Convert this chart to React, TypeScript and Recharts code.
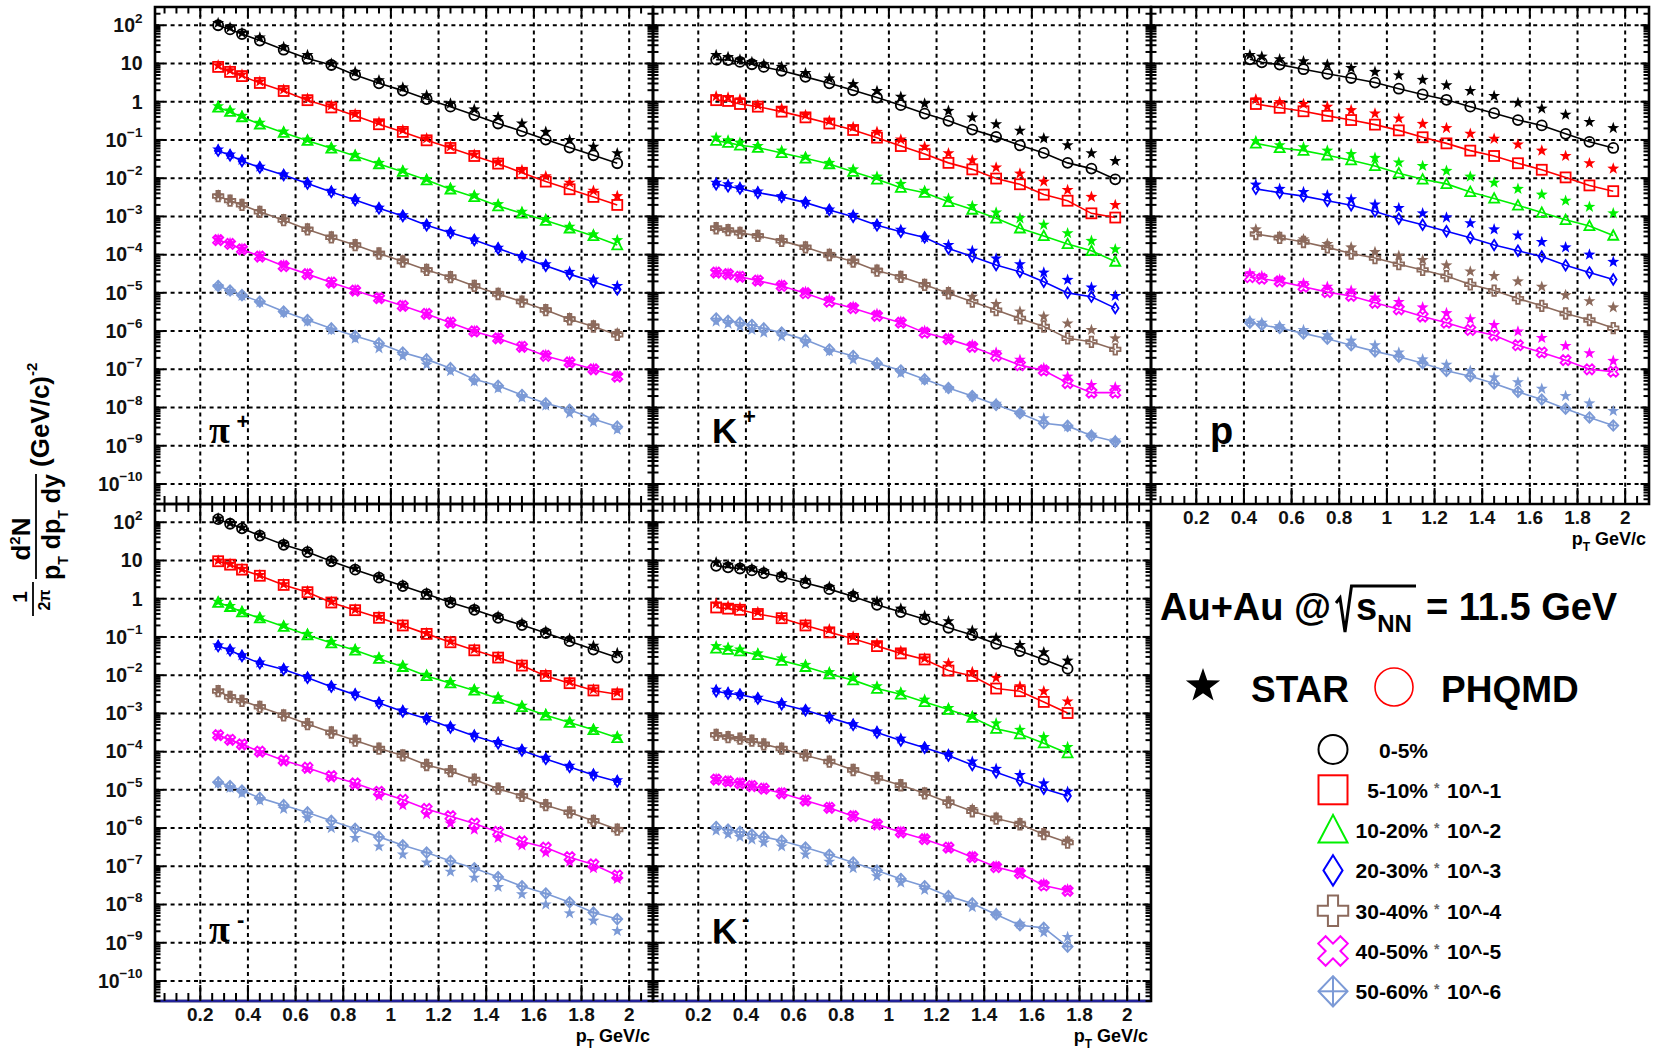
import React from 'react';
import {
  ComposedChart,
  XAxis,
  YAxis,
  Scatter,
  CartesianGrid,
  ReferenceArea,
  ReferenceLine,
} from 'recharts';

const FONT = '"Liberation Sans", Arial, Helvetica, sans-serif';

// pT bin centres (GeV/c)
const ptPion = [0.275, 0.325, 0.375, 0.45, 0.55, 0.65, 0.75, 0.85, 0.95, 1.05, 1.15, 1.25, 1.35, 1.45, 1.55, 1.65, 1.75, 1.85, 1.95];
const ptKaon = [0.275, 0.325, 0.375, 0.425, 0.475, 0.55, 0.65, 0.75, 0.85, 0.95, 1.05, 1.15, 1.25, 1.35, 1.45, 1.55, 1.65, 1.75, 1.85, 1.95];
const ptProtonA = [0.425, 0.475, 0.55, 0.65, 0.75, 0.85, 0.95, 1.05, 1.15, 1.25, 1.35, 1.45, 1.55, 1.65, 1.75, 1.85, 1.95];
const ptProtonB = [0.45, 0.55, 0.65, 0.75, 0.85, 0.95, 1.05, 1.15, 1.25, 1.35, 1.45, 1.55, 1.65, 1.75, 1.85, 1.95];

// log10 of the (scaled) yields; one row per centrality class
const piPlusPhqmd = [
  [2.0, 1.89, 1.77, 1.6, 1.36, 1.13, 0.96, 0.7, 0.48, 0.29, 0.07, -0.13, -0.35, -0.57, -0.77, -0.99, -1.2, -1.4, -1.61],
  [0.91, 0.78, 0.67, 0.49, 0.28, 0.04, -0.15, -0.37, -0.59, -0.79, -1.01, -1.21, -1.42, -1.62, -1.86, -2.09, -2.29, -2.49, -2.7],
  [-0.15, -0.26, -0.4, -0.59, -0.81, -1.02, -1.22, -1.42, -1.63, -1.83, -2.05, -2.29, -2.49, -2.73, -2.92, -3.11, -3.31, -3.51, -3.75],
  [-1.28, -1.4, -1.55, -1.72, -1.92, -2.14, -2.36, -2.57, -2.79, -2.99, -3.23, -3.43, -3.62, -3.84, -4.06, -4.29, -4.51, -4.71, -4.91],
  [-2.47, -2.59, -2.7, -2.88, -3.1, -3.34, -3.55, -3.75, -3.97, -4.18, -4.4, -4.59, -4.82, -5.03, -5.23, -5.45, -5.69, -5.88, -6.1],
  [-3.62, -3.72, -3.86, -4.05, -4.3, -4.51, -4.73, -4.94, -5.14, -5.34, -5.55, -5.78, -6.01, -6.19, -6.41, -6.65, -6.82, -7.0, -7.19],
  [-4.82, -4.94, -5.06, -5.23, -5.49, -5.71, -5.93, -6.13, -6.32, -6.56, -6.74, -6.97, -7.26, -7.43, -7.67, -7.89, -8.06, -8.3, -8.5],
];
const piPlusStar = [
  [2.06, 1.94, 1.8, 1.68, 1.43, 1.22, 1.0, 0.78, 0.56, 0.37, 0.17, -0.05, -0.2, -0.4, -0.57, -0.79, -1.0, -1.18, -1.35],
  [0.95, 0.82, 0.71, 0.53, 0.32, 0.08, -0.1, -0.32, -0.53, -0.74, -0.96, -1.17, -1.38, -1.58, -1.79, -1.95, -2.12, -2.33, -2.47],
  [-0.12, -0.23, -0.37, -0.55, -0.78, -0.99, -1.19, -1.39, -1.6, -1.8, -2.02, -2.25, -2.45, -2.68, -2.88, -3.07, -3.27, -3.47, -3.62],
  [-1.25, -1.38, -1.52, -1.7, -1.9, -2.12, -2.33, -2.55, -2.77, -2.97, -3.2, -3.4, -3.6, -3.82, -4.04, -4.25, -4.45, -4.65, -4.82],
  [-2.45, -2.57, -2.68, -2.86, -3.08, -3.32, -3.53, -3.73, -3.95, -4.15, -4.38, -4.57, -4.8, -5.0, -5.2, -5.43, -5.66, -5.85, -6.05],
  [-3.6, -3.7, -3.84, -4.03, -4.27, -4.5, -4.72, -4.92, -5.13, -5.33, -5.54, -5.77, -5.99, -6.17, -6.4, -6.62, -6.8, -6.98, -7.15],
  [-4.82, -4.95, -5.08, -5.25, -5.52, -5.75, -5.97, -6.2, -6.45, -6.65, -6.88, -7.05, -7.32, -7.5, -7.74, -7.95, -8.15, -8.38, -8.58],
];

const piMinusPhqmd = [
  [2.08, 1.96, 1.84, 1.65, 1.41, 1.22, 0.98, 0.76, 0.55, 0.33, 0.12, -0.1, -0.29, -0.5, -0.69, -0.9, -1.11, -1.33, -1.54],
  [0.98, 0.89, 0.76, 0.6, 0.36, 0.17, -0.1, -0.3, -0.5, -0.7, -0.92, -1.14, -1.35, -1.54, -1.75, -2.02, -2.21, -2.4, -2.5],
  [-0.1, -0.21, -0.35, -0.51, -0.73, -0.95, -1.16, -1.35, -1.57, -1.78, -2.02, -2.21, -2.4, -2.61, -2.83, -3.05, -3.24, -3.43, -3.64],
  [-1.24, -1.35, -1.5, -1.69, -1.85, -2.07, -2.3, -2.51, -2.73, -2.95, -3.14, -3.37, -3.59, -3.78, -3.97, -4.19, -4.4, -4.61, -4.78],
  [-2.42, -2.57, -2.67, -2.83, -3.05, -3.28, -3.5, -3.71, -3.92, -4.1, -4.35, -4.51, -4.73, -4.97, -5.16, -5.4, -5.59, -5.81, -6.04],
  [-3.57, -3.69, -3.81, -4.0, -4.23, -4.42, -4.64, -4.83, -5.05, -5.26, -5.5, -5.69, -5.88, -6.1, -6.35, -6.51, -6.76, -6.95, -7.24],
  [-4.8, -4.9, -5.02, -5.21, -5.4, -5.59, -5.81, -6.02, -6.23, -6.45, -6.64, -6.86, -7.05, -7.28, -7.52, -7.71, -7.94, -8.21, -8.38],
];
const piMinusStar = [
  [2.1, 1.98, 1.86, 1.68, 1.44, 1.25, 1.0, 0.79, 0.58, 0.36, 0.15, -0.07, -0.26, -0.46, -0.64, -0.85, -1.05, -1.23, -1.42],
  [1.0, 0.91, 0.78, 0.62, 0.38, 0.2, -0.08, -0.28, -0.47, -0.68, -0.9, -1.12, -1.32, -1.52, -1.72, -1.98, -2.17, -2.37, -2.45],
  [-0.08, -0.19, -0.33, -0.49, -0.7, -0.92, -1.13, -1.32, -1.53, -1.75, -1.99, -2.18, -2.37, -2.58, -2.8, -3.02, -3.21, -3.41, -3.6],
  [-1.22, -1.33, -1.48, -1.67, -1.82, -2.04, -2.28, -2.48, -2.7, -2.92, -3.12, -3.34, -3.56, -3.75, -3.94, -4.16, -4.37, -4.58, -4.75],
  [-2.4, -2.55, -2.65, -2.81, -3.03, -3.26, -3.48, -3.69, -3.9, -4.08, -4.33, -4.49, -4.71, -4.95, -5.14, -5.38, -5.57, -5.79, -6.02],
  [-3.58, -3.7, -3.83, -4.02, -4.26, -4.46, -4.68, -4.88, -5.16, -5.4, -5.64, -5.88, -6.04, -6.26, -6.45, -6.64, -6.88, -7.05, -7.33],
  [-4.83, -4.95, -5.09, -5.28, -5.5, -5.74, -6.0, -6.26, -6.48, -6.69, -6.9, -7.14, -7.3, -7.54, -7.73, -8.0, -8.23, -8.42, -8.69],
];

const kPlusPhqmd = [
  [1.1, 1.09, 1.04, 0.98, 0.91, 0.81, 0.65, 0.48, 0.3, 0.11, -0.09, -0.31, -0.5, -0.73, -0.92, -1.14, -1.34, -1.6, -1.75, -2.03],
  [0.04, 0.02, -0.06, -0.13, -0.26, -0.41, -0.57, -0.74, -0.94, -1.16, -1.37, -1.6, -1.77, -2.01, -2.16, -2.43, -2.59, -2.92, -3.03],
  [-1.02, -1.07, -1.14, -1.2, -1.34, -1.48, -1.63, -1.83, -2.03, -2.25, -2.38, -2.62, -2.82, -3.05, -3.31, -3.51, -3.72, -3.9, -4.18],
  [-2.16, -2.21, -2.27, -2.38, -2.49, -2.64, -2.83, -3.01, -3.23, -3.4, -3.55, -3.84, -4.05, -4.27, -4.45, -4.71, -5.0, -5.1, -5.4],
  [-3.31, -3.36, -3.43, -3.51, -3.64, -3.81, -4.01, -4.18, -4.42, -4.58, -4.79, -5.01, -5.23, -5.45, -5.67, -5.88, -6.19, -6.28, -6.48],
  [-4.47, -4.51, -4.58, -4.68, -4.82, -5.01, -5.23, -5.4, -5.6, -5.78, -6.04, -6.21, -6.41, -6.65, -6.89, -7.03, -7.36, -7.61, -7.61],
  [-5.67, -5.73, -5.78, -5.84, -5.93, -6.04, -6.23, -6.48, -6.65, -6.84, -7.03, -7.26, -7.49, -7.7, -7.93, -8.15, -8.41, -8.48, -8.74, -8.89],
];
const kPlusStar = [
  [1.22, 1.17, 1.1, 1.04, 0.98, 0.91, 0.75, 0.61, 0.46, 0.28, 0.13, -0.05, -0.24, -0.41, -0.59, -0.76, -0.96, -1.14, -1.35, -1.55],
  [0.14, 0.11, 0.06, -0.09, -0.18, -0.35, -0.5, -0.66, -0.79, -0.99, -1.18, -1.35, -1.53, -1.72, -1.88, -2.09, -2.31, -2.49, -2.7],
  [-0.94, -1.01, -1.07, -1.16, -1.28, -1.44, -1.6, -1.77, -1.96, -2.15, -2.33, -2.53, -2.73, -2.9, -3.05, -3.22, -3.44, -3.64, -3.86],
  [-2.12, -2.16, -2.24, -2.35, -2.47, -2.62, -2.82, -2.96, -3.2, -3.35, -3.55, -3.75, -3.9, -4.1, -4.25, -4.47, -4.66, -4.86, -5.08],
  [-3.29, -3.34, -3.4, -3.49, -3.62, -3.79, -3.98, -4.16, -4.39, -4.56, -4.77, -4.97, -5.1, -5.29, -5.49, -5.62, -5.8, -5.97, -6.19],
  [-4.45, -4.49, -4.56, -4.66, -4.79, -4.97, -5.17, -5.36, -5.55, -5.75, -5.99, -6.19, -6.36, -6.56, -6.75, -6.97, -7.19, -7.41, -7.47],
  [-5.75, -5.81, -5.88, -5.97, -6.04, -6.14, -6.32, -6.53, -6.75, -6.89, -7.1, -7.28, -7.49, -7.7, -7.9, -8.13, -8.28, -8.5, -8.71, -8.86],
];

const kMinusPhqmd = [
  [0.86, 0.82, 0.79, 0.74, 0.67, 0.57, 0.41, 0.25, 0.06, -0.16, -0.35, -0.54, -0.76, -0.95, -1.18, -1.37, -1.59, -1.83],
  [-0.23, -0.26, -0.29, -0.4, -0.51, -0.7, -0.88, -1.05, -1.24, -1.43, -1.59, -1.88, -2.02, -2.35, -2.42, -2.7, -2.99],
  [-1.3, -1.33, -1.37, -1.47, -1.62, -1.78, -1.97, -2.13, -2.35, -2.5, -2.7, -2.9, -3.11, -3.4, -3.54, -3.78, -4.04],
  [-2.42, -2.48, -2.51, -2.61, -2.76, -2.92, -3.11, -3.3, -3.5, -3.71, -3.9, -4.1, -4.35, -4.54, -4.76, -4.97, -5.16],
  [-3.56, -3.62, -3.66, -3.71, -3.81, -3.92, -4.1, -4.26, -4.48, -4.69, -4.88, -5.09, -5.33, -5.56, -5.75, -5.9, -6.16, -6.38],
  [-4.73, -4.78, -4.83, -4.9, -4.97, -5.09, -5.28, -5.47, -5.69, -5.9, -6.11, -6.29, -6.51, -6.76, -7.02, -7.18, -7.5, -7.64],
  [-5.97, -6.04, -6.1, -6.17, -6.23, -6.33, -6.51, -6.7, -6.9, -7.11, -7.33, -7.52, -7.78, -7.97, -8.26, -8.54, -8.61, -9.1],
];
const kMinusStar = [
  [0.95, 0.89, 0.84, 0.79, 0.72, 0.63, 0.48, 0.31, 0.12, -0.07, -0.26, -0.45, -0.59, -0.83, -1.02, -1.21, -1.4, -1.62],
  [-0.13, -0.19, -0.23, -0.35, -0.48, -0.67, -0.8, -0.99, -1.18, -1.37, -1.56, -1.69, -1.92, -2.07, -2.29, -2.42, -2.69],
  [-1.24, -1.28, -1.33, -1.43, -1.56, -1.73, -1.92, -2.07, -2.29, -2.45, -2.64, -2.86, -3.07, -3.26, -3.43, -3.62, -3.88],
  [-2.38, -2.45, -2.5, -2.59, -2.73, -2.9, -3.09, -3.28, -3.47, -3.66, -3.88, -4.07, -4.26, -4.45, -4.61, -4.83, -5.05],
  [-3.54, -3.6, -3.65, -3.7, -3.79, -3.9, -4.08, -4.24, -4.46, -4.67, -4.86, -5.07, -5.3, -5.5, -5.72, -5.86, -6.12, -6.33],
  [-4.71, -4.76, -4.81, -4.88, -4.95, -5.07, -5.26, -5.45, -5.67, -5.88, -6.09, -6.27, -6.5, -6.74, -6.99, -7.15, -7.45, -7.6],
  [-6.07, -6.16, -6.23, -6.3, -6.38, -6.48, -6.69, -6.88, -7.05, -7.26, -7.43, -7.62, -7.83, -8.07, -8.23, -8.5, -8.73, -8.85],
];

const protonPhqmd = [
  [1.11, 1.03, 0.97, 0.85, 0.73, 0.62, 0.5, 0.34, 0.19, 0.05, -0.13, -0.3, -0.48, -0.62, -0.84, -1.05, -1.21],
  [-0.06, -0.16, -0.25, -0.37, -0.48, -0.6, -0.75, -0.93, -1.09, -1.28, -1.42, -1.61, -1.78, -1.98, -2.19, -2.34],
  [-1.09, -1.21, -1.28, -1.4, -1.53, -1.68, -1.87, -2.03, -2.15, -2.36, -2.53, -2.71, -2.9, -3.09, -3.25, -3.5],
  [-2.28, -2.38, -2.47, -2.59, -2.71, -2.87, -3.06, -3.22, -3.39, -3.56, -3.75, -3.9, -4.05, -4.28, -4.47, -4.65],
  [-3.46, -3.56, -3.67, -3.81, -3.97, -4.09, -4.25, -4.4, -4.56, -4.78, -4.94, -5.15, -5.34, -5.54, -5.71, -5.92],
  [-4.59, -4.63, -4.7, -4.84, -4.98, -5.08, -5.26, -5.43, -5.62, -5.78, -5.97, -6.11, -6.37, -6.56, -6.76, -7.0, -7.06],
  [-5.78, -5.84, -5.92, -6.06, -6.2, -6.37, -6.53, -6.67, -6.84, -7.04, -7.18, -7.37, -7.59, -7.79, -8.03, -8.26, -8.47],
];
const protonStar = [
  [1.22, 1.18, 1.11, 1.06, 0.97, 0.88, 0.78, 0.69, 0.57, 0.43, 0.28, 0.15, -0.03, -0.18, -0.34, -0.53, -0.69],
  [0.06, -0.01, -0.06, -0.13, -0.22, -0.31, -0.44, -0.58, -0.69, -0.84, -0.97, -1.12, -1.28, -1.42, -1.61, -1.75],
  [-1.03, -1.14, -1.19, -1.28, -1.37, -1.47, -1.59, -1.68, -1.81, -1.96, -2.12, -2.28, -2.43, -2.59, -2.75, -2.92],
  [-2.17, -2.28, -2.36, -2.45, -2.55, -2.69, -2.78, -2.92, -3.03, -3.18, -3.34, -3.5, -3.67, -3.81, -4.0, -4.19],
  [-3.34, -3.53, -3.6, -3.72, -3.81, -3.93, -4.03, -4.14, -4.28, -4.44, -4.56, -4.7, -4.84, -5.06, -5.22, -5.38],
  [-4.49, -4.56, -4.65, -4.75, -4.84, -4.94, -5.12, -5.24, -5.38, -5.53, -5.69, -5.84, -6.01, -6.18, -6.39, -6.58, -6.78],
  [-5.73, -5.78, -5.87, -5.97, -6.11, -6.25, -6.37, -6.56, -6.74, -6.88, -7.04, -7.21, -7.34, -7.51, -7.7, -7.89, -8.09],
];

const centralities = ['0-5%', '5-10%', '10-20%', '20-30%', '30-40%', '40-50%', '50-60%'];
const scaleTags = ['', '10^-1', '10^-2', '10^-3', '10^-4', '10^-5', '10^-6'];
const colors = ['#000000', '#ff0000', '#00f000', '#0000ff', '#8c6a5c', '#ff00ff', '#7c9ad6'];
const shapes = ['circle', 'square', 'triangle', 'diamond', 'cross', 'xcross', 'diamondcross'];

const xMajor = [0.2, 0.4, 0.6, 0.8, 1.0, 1.2, 1.4, 1.6, 1.8, 2.0];
const xMajorLabels = ['0.2', '0.4', '0.6', '0.8', '1', '1.2', '1.4', '1.6', '1.8', '2'];
const yMajor = [1e2, 1e1, 1, 1e-1, 1e-2, 1e-3, 1e-4, 1e-5, 1e-6, 1e-7, 1e-8, 1e-9, 1e-10];
const yMajorBase = ['10', '10', '1', '10', '10', '10', '10', '10', '10', '10', '10', '10', '10'];
const yMajorSup = ['2', '', '', '\u22121', '\u22122', '\u22123', '\u22124', '\u22125', '\u22126', '\u22127', '\u22128', '\u22129', '\u221210'];

const X_MIN = 0.01;
const X_MAX = 2.1;
const Y_MIN = 3e-11;
const Y_MAX = 300;

// axis decoration: minor tick positions
const xMinor: number[] = [];
for (let k = 1; k <= 41; k++) if (k % 4 !== 0) xMinor.push(Math.round(k * 5) / 100);
const yMinor: number[] = [];
for (let e = -11; e <= 2; e++)
  for (let m = 2; m <= 9; m++) {
    const v = m * Math.pow(10, e);
    if (v >= Y_MIN && v <= Y_MAX) yMinor.push(v);
  }
const xTicks = [...xMajor, ...xMinor].sort((a, b) => a - b);
const yTicks = [...yMajor, ...yMinor].sort((a, b) => a - b);

// frame geometry
const PW = 498;
const PH = 497;
const ML = 80;
const MR = 20;
const MT = 25;
const MB = 50;
const COLS = [155, 653, 1151];
const ROWS = [7, 504];

const toPts = (xs: number[], logs: number[]) => logs.map((v, i) => ({ x: xs[i], y: Math.pow(10, v) }));

const starPath = (cx: number, cy: number, R: number) => {
  let d = '';
  for (let k = 0; k < 10; k++) {
    const a = ((-90 + k * 36) * Math.PI) / 180;
    const r = k % 2 === 0 ? R : R * 0.4;
    d += (k === 0 ? 'M' : 'L') + (cx + r * Math.cos(a)).toFixed(2) + ',' + (cy + r * Math.sin(a)).toFixed(2);
  }
  return d + 'Z';
};

const plusPath = (cx: number, cy: number, s: number) => {
  const a = s / 3;
  return `M${cx - a},${cy - s}H${cx + a}V${cy - a}H${cx + s}V${cy + a}H${cx + a}V${cy + s}H${cx - a}V${cy + a}H${cx - s}V${cy - a}H${cx - a}Z`;
};

function Marker({ kind, cx, cy, color, r = 5, sw = 1.8 }: any) {
  if (cx == null || cy == null) return null;
  const common = { fill: 'none', stroke: color, strokeWidth: sw };
  switch (kind) {
    case 'circle':
      return <circle cx={cx} cy={cy} r={r} {...common} />;
    case 'square':
      return <rect x={cx - r} y={cy - r} width={2 * r} height={2 * r} {...common} />;
    case 'triangle':
      return <polygon points={`${cx},${cy - r * 1.05} ${cx - r},${cy + r * 0.85} ${cx + r},${cy + r * 0.85}`} {...common} />;
    case 'diamond':
      return <polygon points={`${cx},${cy - r * 1.05} ${cx + r * 0.66},${cy} ${cx},${cy + r * 1.05} ${cx - r * 0.66},${cy}`} {...common} />;
    case 'cross':
      return <path d={plusPath(cx, cy, r * 1.05)} {...common} />;
    case 'xcross':
      return <path d={plusPath(cx, cy, r * 1.08)} transform={`rotate(45 ${cx} ${cy})`} {...common} />;
    default:
      return (
        <g>
          <polygon points={`${cx},${cy - r * 1.05} ${cx + r},${cy} ${cx},${cy + r * 1.05} ${cx - r},${cy}`} {...common} />
          <line x1={cx - r} x2={cx + r} y1={cy} y2={cy} {...common} />
          <line x1={cx} x2={cx} y1={cy - r * 1.05} y2={cy + r * 1.05} {...common} />
        </g>
      );
  }
}

const makeYTick = (showLabels: boolean) => (props: any) => {
  const { x, y, payload } = props;
  const idx = yMajor.indexOf(payload.value);
  const major = idx >= 0;
  const len = major ? 8.5 : 5.5;
  return (
    <g>
      <line x1={x} x2={x + len} y1={y} y2={y} stroke="#000" strokeWidth={2} />
      <line x1={x + PW} x2={x + PW - len} y1={y} y2={y} stroke="#000" strokeWidth={2} />
      {major && showLabels && (
        <text x={x - 12.5} y={y + 6.8} textAnchor="end" fontFamily={FONT} fontWeight="bold" fontSize={19.5} fill="#111">
          {yMajorBase[idx]}
          {yMajorSup[idx] ? (
            <tspan dy={-9.5} fontSize={13.5}>
              {yMajorSup[idx]}
            </tspan>
          ) : null}
        </text>
      )}
    </g>
  );
};

const makeXTick = (showLabels: boolean, topMajor: number, topMinor: number) => (props: any) => {
  const { x, y, payload } = props;
  const idx = xMajor.findIndex((v) => Math.abs(v - payload.value) < 1e-9);
  const major = idx >= 0;
  const bl = major ? 16 : 8;
  const tl = major ? topMajor : topMinor;
  return (
    <g>
      <line x1={x} x2={x} y1={y} y2={y - bl} stroke="#000" strokeWidth={2} />
      <line x1={x} x2={x} y1={y - PH} y2={y - PH + tl} stroke="#000" strokeWidth={2} />
      {major && showLabels && (
        <text x={x} y={y + 20} textAnchor="middle" fontFamily={FONT} fontWeight="bold" fontSize={19} fill="#111">
          {xMajorLabels[idx]}
        </text>
      )}
    </g>
  );
};

type PanelCfg = {
  key: string;
  col: number;
  row: number;
  grids: number[][];
  phqmd: number[][];
  star: number[][];
  showY: boolean;
  showX: boolean;
};

const kPlusGrids = [ptKaon, ptPion, ptPion, ptPion, ptPion, ptPion, ptKaon];
const kMinusGrids = [ptKaon, ptPion, ptPion, ptPion, ptKaon, ptKaon, ptKaon];
const protonGrids = [ptProtonA, ptProtonB, ptProtonB, ptProtonB, ptProtonB, ptProtonA, ptProtonA];
const pionGrids = [ptPion, ptPion, ptPion, ptPion, ptPion, ptPion, ptPion];

const panels: PanelCfg[] = [
  { key: 'pip', col: 0, row: 0, grids: pionGrids, phqmd: piPlusPhqmd, star: piPlusStar, showY: true, showX: false },
  { key: 'kp', col: 1, row: 0, grids: kPlusGrids, phqmd: kPlusPhqmd, star: kPlusStar, showY: false, showX: false },
  { key: 'p', col: 2, row: 0, grids: protonGrids, phqmd: protonPhqmd, star: protonStar, showY: false, showX: true },
  { key: 'pim', col: 0, row: 1, grids: pionGrids, phqmd: piMinusPhqmd, star: piMinusStar, showY: true, showX: true },
  { key: 'km', col: 1, row: 1, grids: kMinusGrids, phqmd: kMinusPhqmd, star: kMinusStar, showY: false, showX: true },
];

function Panel({ cfg }: { cfg: PanelCfg }) {
  const W = ML + PW + MR;
  const H = MT + PH + MB;
  const left = COLS[cfg.col];
  const top = ROWS[cfg.row];
  const topMajor = cfg.row === 0 ? 10 : 16;
  const topMinor = cfg.row === 0 ? 6.5 : 8;
  return (
    <div style={{ position: 'absolute', left: left - ML, top: top - MT, width: W, height: H }}>
      <ComposedChart width={W} height={H} margin={{ top: MT, right: MR, bottom: 0, left: 0 }}>
        <CartesianGrid
          xAxisId="b"
          yAxisId="l"
          horizontalValues={yMajor}
          verticalValues={xMajor}
          stroke="#000"
          strokeWidth={2}
          strokeDasharray="4 3.8"
          fill="none"
        />
        <XAxis
          xAxisId="b"
          type="number"
          dataKey="x"
          domain={[X_MIN, X_MAX]}
          allowDataOverflow
          ticks={xTicks}
          interval={0}
          tickSize={0}
          tickMargin={0}
          axisLine={false}
          tickLine={false}
          height={MB}
          tick={makeXTick(cfg.showX, topMajor, topMinor)}
        />
        <YAxis
          yAxisId="l"
          type="number"
          dataKey="y"
          scale="log"
          domain={[Y_MIN, Y_MAX]}
          allowDataOverflow
          ticks={yTicks}
          interval={0}
          tickSize={0}
          tickMargin={0}
          axisLine={false}
          tickLine={false}
          width={ML}
          tick={makeYTick(cfg.showY)}
        />
        <ReferenceArea
          xAxisId="b"
          yAxisId="l"
          x1={X_MIN}
          x2={X_MAX}
          y1={Y_MIN}
          y2={Y_MAX}
          fill="none"
          fillOpacity={0}
          stroke="#000"
          strokeWidth={2.6}
          ifOverflow="visible"
        />
        {cfg.row === 1 && (
          <ReferenceLine xAxisId="b" yAxisId="l" y={Y_MIN} stroke="#22229a" strokeWidth={2.6} ifOverflow="visible" />
        )}
        {cfg.phqmd.map((logs, i) => (
          <Scatter
            key={`phq-${i}`}
            xAxisId="b"
            yAxisId="l"
            data={toPts(cfg.grids[i], logs)}
            fill={colors[i]}
            line={{ stroke: colors[i], strokeWidth: 1.6 }}
            lineType="joint"
            isAnimationActive={false}
            shape={(p: any) => <Marker kind={shapes[i]} cx={p.cx} cy={p.cy} color={colors[i]} />}
          />
        ))}
        {cfg.star.map((logs, i) => (
          <Scatter
            key={`star-${i}`}
            xAxisId="b"
            yAxisId="l"
            data={toPts(cfg.grids[i], logs)}
            fill={colors[i]}
            isAnimationActive={false}
            shape={(p: any) =>
              p.cx == null ? <g /> : <path d={starPath(p.cx, p.cy, 6.3)} fill={colors[i]} stroke="none" />
            }
          />
        ))}
      </ComposedChart>
    </div>
  );
}

function XTitle({ right, y }: { right: number; y: number }) {
  return (
    <text x={right} y={y} textAnchor="end" fontSize={18}>
      p
      <tspan dy={6} fontSize={12}>
        T
      </tspan>
      <tspan dy={-6}> GeV/c</tspan>
    </text>
  );
}

function Overlay() {
  const legendY = [749.5, 789.8, 830.1, 870.4, 910.7, 951, 991.3];
  return (
    <svg
      width={1664}
      height={1050}
      style={{ position: 'absolute', left: 0, top: 0, pointerEvents: 'none' }}
      fontFamily={FONT}
      fontWeight="bold"
      fill="#000"
    >
      {/* y axis title */}
      <g transform="translate(0,620) rotate(-90)">
        <text x={23} y={27} textAnchor="middle" fontSize={21}>1</text>
        <line x1={4} x2={38} y1={33} y2={33} stroke="#000" strokeWidth={1.8} />
        <text x={20} y={50} textAnchor="middle" fontSize={16}>2π</text>
        <text x={81} y={30} textAnchor="middle" fontSize={26}>
          d<tspan dy={-10} fontSize={15}>2</tspan>
          <tspan dy={10}>N</tspan>
        </text>
        <line x1={41} x2={146} y1={36} y2={36} stroke="#000" strokeWidth={1.8} />
        <text x={93} y={60} textAnchor="middle" fontSize={25}>
          p<tspan dy={8} fontSize={14}>T</tspan>
          <tspan dy={-8}> dp</tspan>
          <tspan dy={8} fontSize={14}>T</tspan>
          <tspan dy={-8}> dy</tspan>
        </text>
        <text x={153} y={49} fontSize={26}>
          (GeV/c)<tspan dy={-12} fontSize={15}>-2</tspan>
        </text>
      </g>

      {/* particle labels */}
      <text x={209} y={443} fontFamily='"Liberation Serif", "DejaVu Serif", serif' fontSize={38}>π</text>
      <text x={236.5} y={429} fontSize={22}>+</text>
      <text x={712} y={443} fontSize={35}>K</text>
      <text x={743} y={424} fontSize={22}>+</text>
      <text x={1210} y={444} fontSize={38}>p</text>
      <text x={209} y={942} fontFamily='"Liberation Serif", "DejaVu Serif", serif' fontSize={38}>π</text>
      <text x={237} y={927} fontSize={22}>-</text>
      <text x={712} y={942.5} fontSize={35}>K</text>
      <text x={742} y={926} fontSize={22}>-</text>

      {/* x axis titles */}
      <XTitle right={COLS[0] + PW - 3} y={ROWS[1] + PH + 41} />
      <XTitle right={COLS[1] + PW - 3} y={ROWS[1] + PH + 41} />
      <XTitle right={COLS[2] + PW - 3} y={ROWS[0] + PH + 41} />

      {/* collision system */}
      <text x={1160} y={620} fontSize={38}>Au+Au @</text>
      <path d="M1336,603 L1340,598 L1345,632 L1351.5,586 L1416,586" fill="none" stroke="#000" strokeWidth={3} />
      <text x={1356} y={620} fontSize={38}>
        s<tspan dy={12} fontSize={24}>NN</tspan>
      </text>
      <text x={1426} y={620} fontSize={38}>= 11.5 GeV</text>

      {/* data source legend */}
      <path d={starPath(1203, 686, 18)} fill="#000" />
      <text x={1251} y={702} fontSize={37}>STAR</text>
      <circle cx={1394} cy={687} r={19} fill="none" stroke="#ff0000" strokeWidth={1.6} />
      <text x={1441} y={702} fontSize={37}>PHQMD</text>

      {/* centrality legend */}
      {centralities.map((c, i) => (
        <g key={c}>
          <Marker kind={shapes[i]} cx={1333} cy={legendY[i]} color={colors[i]} r={14.5} sw={2} />
          <text x={1428} y={legendY[i] + 8} textAnchor="end" fontSize={21}>{c}</text>
          {scaleTags[i] ? (
            <>
              <text x={1434} y={legendY[i] + 3} fontSize={14} fill="#666">*</text>
              <text x={1447} y={legendY[i] + 8} fontSize={21}>{scaleTags[i]}</text>
            </>
          ) : null}
        </g>
      ))}
    </svg>
  );
}

export default function App() {
  return (
    <div
      style={{
        position: 'absolute',
        left: 0,
        top: 0,
        width: 1664,
        height: 1050,
        background: '#fff',
        overflow: 'hidden',
      }}
    >
      {panels.map((cfg) => (
        <Panel key={cfg.key} cfg={cfg} />
      ))}
      <Overlay />
    </div>
  );
}
